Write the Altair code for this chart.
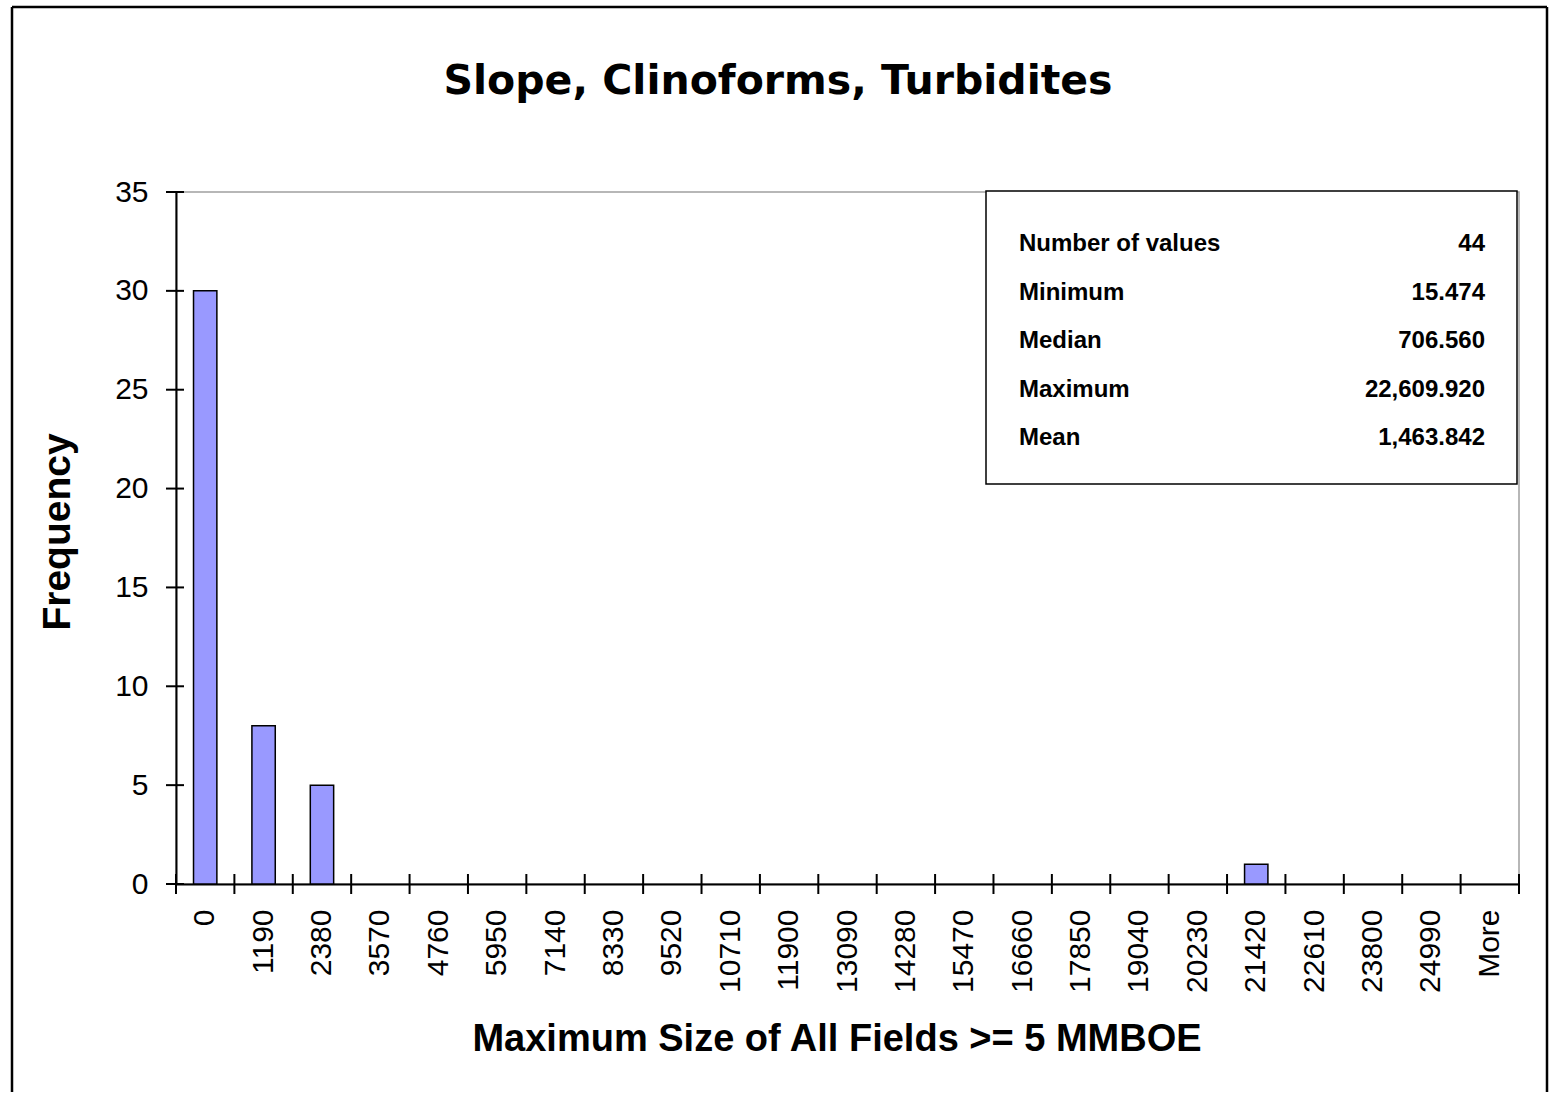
import altair as alt
import pandas as pd

# ---- data ----
categories = ["0", "1190", "2380", "3570", "4760", "5950", "7140", "8330", "9520",
              "10710", "11900", "13090", "14280", "15470", "16660", "17850", "19040",
              "20230", "21420", "22610", "23800", "24990", "More"]
frequency = [30, 8, 5, 0, 0, 0, 0, 0, 0,
             0, 0, 0, 0, 0, 0, 0, 0,
             0, 1, 0, 0, 0, 0]
y_ticks = [0, 5, 10, 15, 20, 25, 30, 35]
stat_labels = ["Number of values", "Minimum", "Median", "Maximum", "Mean"]
stat_values = ["44", "15.474", "706.560", "22,609.920", "1,463.842"]
title_text = "Slope, Clinoforms, Turbidites"
x_title = "Maximum Size of All Fields >= 5 MMBOE"
y_title = "Frequency"

W, H = 1343, 692
FONT = "Liberation Sans"

df = pd.DataFrame({"bin": categories, "freq": frequency})
ticks_df = pd.DataFrame({"t": y_ticks})
stats_df = pd.DataFrame({"stat": stat_labels, "value": stat_values})
one = alt.Data(values=[{"k": 1}])

x_scale = alt.Scale(domain=categories, paddingInner=0, paddingOuter=0)
y_scale = alt.Scale(domain=[0, 35], nice=False, zero=True)

x_axis = alt.Axis(title=None, labelAngle=270, labelFontSize=30, labelFont=FONT,
                  labelColor="black", ticks=False, tickSize=0, domainColor="black",
                  domainWidth=2, labelPadding=25, labelOverlap=False)
y_axis = alt.Axis(title=None, values=y_ticks, grid=False, ticks=False, tickSize=0,
                  labelFontSize=30, labelFont=FONT, labelColor="black",
                  labelPadding=28, domainColor="black", domainWidth=2)

bars = alt.Chart(df).transform_filter("datum.freq > 0").mark_bar(
    color="#9999FF", stroke="black", strokeWidth=1.5, width={"band": 0.4}
).encode(
    x=alt.X("bin:N", scale=x_scale, sort=categories, axis=x_axis),
    y=alt.Y("freq:Q", scale=y_scale, axis=y_axis),
)

# crossing ticks on the x axis (category boundaries)
xticks = alt.Chart(df).mark_rule(color="black", strokeWidth=2).encode(
    x=alt.X("bin:N", scale=x_scale, sort=categories, bandPosition=0, axis=x_axis),
    y=alt.value(H - 10), y2=alt.value(H + 10),
)
xtick_end = alt.Chart(pd.DataFrame({"bin": [categories[-1]]})).mark_rule(
    color="black", strokeWidth=2).encode(
    x=alt.X("bin:N", scale=x_scale, sort=categories, bandPosition=1, axis=x_axis),
    y=alt.value(H - 10), y2=alt.value(H + 10),
)

# crossing ticks on the y axis
yticks = alt.Chart(ticks_df).mark_rule(color="black", strokeWidth=2).encode(
    y=alt.Y("t:Q", scale=y_scale, axis=None),
    x=alt.value(-10), x2=alt.value(8),
)

# statistics box
box = alt.Chart(one).mark_rect(fill="white", stroke="black", strokeWidth=1.5).encode(
    x=alt.value(810), x2=alt.value(1341), y=alt.value(-1), y2=alt.value(292)
)
stat_y = alt.Y("stat:N", sort=stat_labels,
               scale=alt.Scale(type="point", domain=stat_labels, range=[52, 246], padding=0),
               axis=None)
stat_lab = alt.Chart(stats_df).mark_text(
    align="left", baseline="middle", font=FONT, fontSize=24, fontWeight="bold", color="black"
).encode(x=alt.value(843), y=stat_y, text="stat:N")
stat_val = alt.Chart(stats_df).mark_text(
    align="right", baseline="middle", font=FONT, fontSize=24, fontWeight="bold", color="black"
).encode(x=alt.value(1309), y=stat_y, text="value:N")

# titles
title = alt.Chart(alt.Data(values=[{"t": title_text}])).mark_text(
    align="center", baseline="alphabetic", font="DejaVu Sans", fontSize=41,
    fontWeight="bold", color="black"
).encode(x=alt.value(602), y=alt.value(-98), text="t:N")
xt = alt.Chart(alt.Data(values=[{"t": x_title}])).mark_text(
    align="center", baseline="alphabetic", font=FONT, fontSize=38,
    fontWeight="bold", color="black"
).encode(x=alt.value(661), y=alt.value(859), text="t:N")
yt = alt.Chart(alt.Data(values=[{"t": y_title}])).mark_text(
    align="center", baseline="alphabetic", font=FONT, fontSize=39,
    fontWeight="bold", color="black", angle=270
).encode(x=alt.value(-106), y=alt.value(340), text="t:N")

# outer frame (left, top, right)
frame_l = alt.Chart(one).mark_rule(color="black", strokeWidth=2.5).encode(
    x=alt.value(-164), y=alt.value(-185), y2=alt.value(900))
frame_t = alt.Chart(one).mark_rule(color="black", strokeWidth=2.5).encode(
    x=alt.value(-164), x2=alt.value(1371), y=alt.value(-185))
frame_r = alt.Chart(one).mark_rule(color="black", strokeWidth=2.5).encode(
    x=alt.value(1371), y=alt.value(-185), y2=alt.value(900))

chart = alt.layer(
    frame_l, frame_t, frame_r, bars, xticks, xtick_end, yticks, box, stat_lab, stat_val,
    title, xt, yt
).resolve_scale(y="independent").properties(
    width=W, height=H,
    padding={"left": 10, "top": 5, "right": 0, "bottom": 0},
    background="white",
).configure_view(stroke="#a0a0a0", strokeWidth=1.5)

chart.save("out.html", embed_options={"renderer": "svg", "actions": False})
